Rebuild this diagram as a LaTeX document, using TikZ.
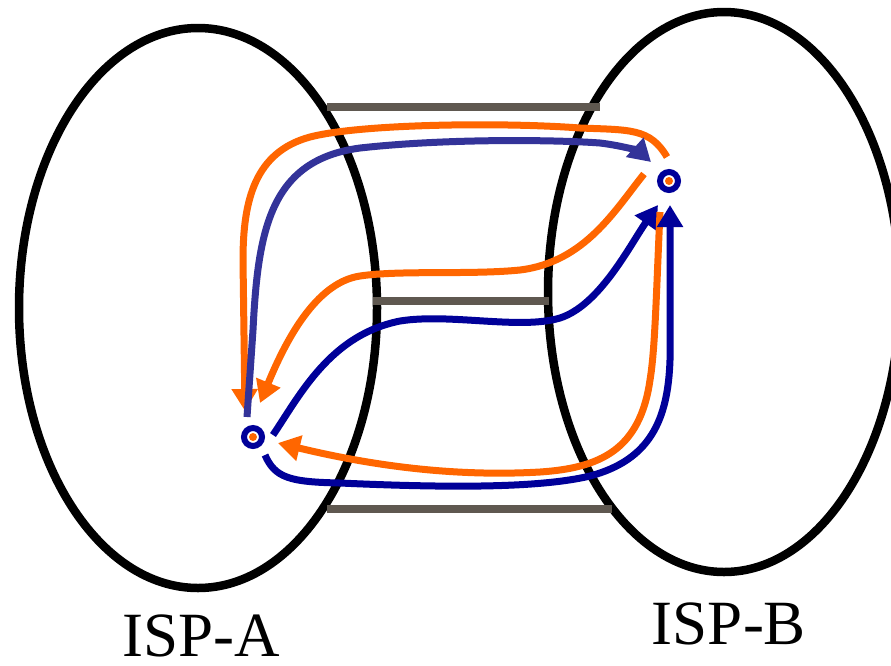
\documentclass[tikz,border=0pt]{standalone}
\usepackage{fontspec}
\setmainfont{Liberation Serif}
\usetikzlibrary{arrows.meta}
\definecolor{ora}{HTML}{FF6600}
\definecolor{nav}{HTML}{000099}
\definecolor{blu}{HTML}{333399}
\definecolor{bar}{HTML}{5F5850}
\tikzset{
  ispline/.style={line width=8.5pt, black},
  barline/.style={line width=8pt, bar},
  route/.style={line width=7pt, line cap=butt},
  tipped/.style={-{Triangle[length=22pt,width=25pt]}},
  ring/.style={circle, draw=nav, line width=6pt, fill=white, minimum size=18pt, inner sep=0pt},
  core/.style={circle, fill=ora, minimum size=8pt, inner sep=0pt},
  label/.style={font=\fontsize{63}{63}\selectfont, inner sep=0pt, anchor=base, text depth=0pt}
}
\begin{document}
\begin{tikzpicture}[x=1pt,y=-1pt]
\useasboundingbox (0,0) rectangle (891,665);
\clip (0,0) rectangle (891,665);
% ISP clouds
\draw[ispline] (198,308) ellipse [x radius=179, y radius=280];
\draw[ispline] (724,292) ellipse [x radius=176, y radius=280];
% inter-ISP links
\coordinate (t1) at (327,107); \coordinate (t2) at (600,107);
\coordinate (m1) at (373,301); \coordinate (m2) at (549,301);
\coordinate (b1) at (327,509); \coordinate (b2) at (612,509);
\draw[barline] (t1) -- (t2);
\draw[barline] (m1) -- (m2);
\draw[barline] (b1) -- (b2);
% hosts
\node[ring] (ha) at (253,437) {};
\node[core] at (ha) {};
\node[ring] (hb) at (669,181) {};
\node[core] at (hb) {};
% route end points
\coordinate (o1s) at (667,157); \coordinate (o1e) at (245,411);
\coordinate (b1s) at (247,417); \coordinate (b1e) at (651,162);
\coordinate (o2s) at (644,174); \coordinate (o2e) at (260,403);
\coordinate (n2s) at (273,435); \coordinate (n2e) at (658,205);
\coordinate (o3s) at (660,212); \coordinate (o3e) at (278,443);
\coordinate (n3s) at (265,455); \coordinate (n3e) at (670,205);
% outer orange: B -> A over the top
\draw[route, ora, tipped] (o1s) .. controls (650,128) and (630,130) .. (580,128)
  .. controls (500,122) and (360,124) .. (310,137)
  .. controls (255,152) and (243,200) .. (243,260) -- (o1e);
% outer blue: A -> B over the top
\draw[route, blu, tipped] (b1s) -- (253,330) .. controls (258,230) and (270,160) .. (360,148)
  .. controls (450,138) and (560,140) .. (600,143)
  .. controls (625,146) and (640,152) .. (b1e);
% middle orange: B -> A
\draw[route, ora, tipped] (o2s) .. controls (615,210) and (585,262) .. (520,270)
  .. controls (470,275) and (400,270) .. (360,276)
  .. controls (320,282) and (290,330) .. (o2e);
% middle navy: A -> B
\draw[route, nav, tipped] (n2s) .. controls (300,395) and (330,335) .. (400,321)
  .. controls (450,313) and (520,330) .. (560,318)
  .. controls (600,305) and (630,245) .. (n2e);
% lower orange: B -> A
\draw[route, ora, tipped] (o3s) .. controls (656,300) and (655,350) .. (650,380)
  .. controls (640,450) and (600,468) .. (540,472)
  .. controls (470,476) and (390,470) .. (o3e);
% lower navy: A -> B
\draw[route, nav, tipped] (n3s) .. controls (275,478) and (290,482) .. (340,483)
  .. controls (450,488) and (540,488) .. (590,476)
  .. controls (650,460) and (668,420) .. (670,360) -- (n3e);
% labels
\node[label] (la) at (201,656) {ISP-A};
\node[label] (lb) at (729,644) {ISP-B};
\end{tikzpicture}
\end{document}
